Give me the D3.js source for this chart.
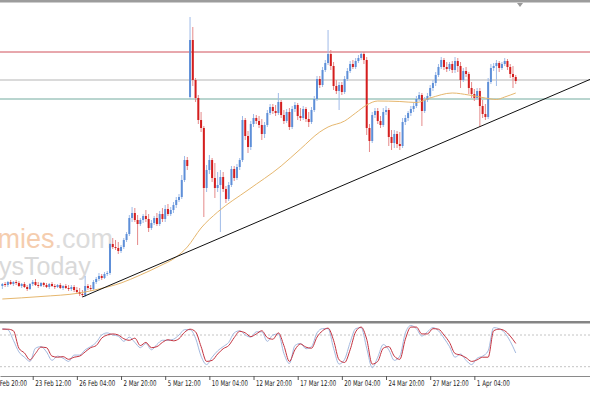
<!DOCTYPE html>
<html>
<head>
<meta charset="utf-8">
<script src="https://cdnjs.cloudflare.com/ajax/libs/d3/7.8.5/d3.min.js"></script>
<style>
  body { margin: 0; background: #fff; }
  svg { display: block; }
</style>
</head>
<body>
<script>
// H4 bars, prices in pips (x 0.0001)
const opens = [9688,9692,9690,9696,9692,9696,9694,9688,9692,9686,
  9682,9692,9696,9690,9688,9694,9690,9686,9692,9688,
  9686,9690,9684,9688,9684,9682,9686,9680,9676,9672,
  9670,9688,9684,9682,9696,9702,9708,9704,9712,9714,
  9772,9766,9764,9758,9766,9780,9792,9824,9834,9820,
  9812,9820,9828,9822,9804,9814,9824,9812,9832,9822,
  9842,9832,9840,9850,9860,9866,9900,9940,10066,10180,
  10100,10064,10020,10004,9884,9920,9940,9904,9884,9890,
  9906,9882,9862,9890,9922,9904,9926,9940,10020,9988,
  9966,10012,10024,10018,10010,9992,10010,10034,10046,10038,
  10034,10056,10030,10018,10036,10006,10042,10050,10028,10024,
  10042,10022,10016,10040,10062,10102,10090,10120,10134,10152,
  10128,10088,10078,10090,10076,10102,10118,10132,10126,10138,
  10144,10152,10140,10004,9978,10030,10038,10018,10010,10036,
  10040,9986,9974,9992,9972,9968,10016,10024,10034,10042,
  10048,10062,10070,10038,10060,10068,10084,10094,10110,10126,
  10140,10126,10122,10132,10120,10138,10128,10100,10118,10112,
  10084,10072,10064,10078,10048,10032,10026,10096,10124,10128,
  10134,10124,10132,10138,10126,10112,10106];
const highs = [9694,9696,9698,9700,9698,9700,9698,9694,9696,9690,
  9694,9700,9702,9696,9696,9696,9694,9694,9696,9692,
  9692,9694,9690,9692,9690,9690,9690,9686,9684,9680,
  9708,9692,9690,9700,9706,9714,9712,9716,9718,9774,
  9784,9780,9776,9770,9784,9796,9830,9846,9844,9830,
  9824,9832,9840,9832,9820,9828,9834,9838,9844,9850,
  9852,9846,9856,9866,9872,9910,9948,9946,10226,10206,
  10104,10070,10036,10008,9930,9950,9944,9934,9916,9920,
  9916,9888,9896,9928,9928,9932,9944,10028,10024,9998,
  10018,10032,10030,10028,10022,10016,10040,10052,10052,10050,
  10074,10060,10040,10042,10044,10048,10056,10054,10044,10048,
  10046,10036,10046,10068,10108,10108,10126,10140,10200,10160,
  10136,10100,10096,10096,10108,10124,10138,10140,10144,10150,
  10156,10156,10146,10012,10036,10044,10044,10028,10044,10048,
  10044,10000,10000,9998,9996,10024,10030,10038,10048,10054,
  10068,10076,10074,10066,10074,10090,10100,10116,10132,10146,
  10144,10136,10136,10138,10146,10144,10136,10124,10126,10116,
  10096,10082,10084,10084,10060,10052,10104,10132,10134,10140,
  10138,10136,10144,10142,10132,10128,10110];
const lows = [9682,9686,9686,9690,9688,9690,9686,9684,9684,9678,
  9680,9688,9688,9684,9686,9686,9684,9682,9686,9682,
  9684,9682,9680,9682,9678,9678,9676,9672,9668,9666,
  9666,9680,9678,9680,9692,9698,9700,9702,9708,9710,
  9762,9760,9752,9754,9762,9776,9788,9816,9816,9770,
  9808,9814,9816,9796,9800,9810,9808,9808,9816,9816,
  9828,9828,9834,9844,9856,9862,9896,9920,10062,10088,
  10056,10012,9996,9826,9876,9912,9896,9864,9876,9796,
  9876,9854,9858,9886,9898,9900,9920,9936,9980,9954,
  9960,10006,10012,10004,9980,9984,10006,10030,10032,10028,
  10030,10024,10012,10014,10000,10002,10036,10020,10018,10020,
  10016,10006,10012,10036,10058,10084,10086,10116,10130,10120,
  10080,10072,10040,10070,10072,10098,10114,10122,10122,10134,
  10140,10132,9990,9956,9974,10024,10012,10004,10006,10030,
  9968,9960,9964,9964,9960,9964,10010,10018,10028,10036,
  10044,10058,10008,10034,10056,10064,10078,10088,10106,10122,
  10120,10116,10118,10114,10114,10116,10084,10096,10106,10072,
  10064,10058,10060,10006,10024,10020,10022,10092,10118,10088,
  10116,10120,10128,10120,10104,10084,10092];
const closes = [9692,9690,9696,9692,9696,9694,9688,9692,9686,9682,
  9692,9696,9690,9688,9694,9690,9686,9692,9688,9686,
  9690,9684,9688,9684,9682,9686,9680,9676,9672,9670,
  9688,9684,9682,9696,9702,9708,9704,9712,9714,9772,
  9766,9764,9758,9766,9780,9792,9824,9834,9820,9812,
  9820,9828,9822,9804,9814,9824,9812,9832,9822,9842,
  9832,9840,9850,9860,9866,9900,9940,9928,10180,10100,
  10064,10020,10004,9884,9920,9940,9904,9884,9890,9906,
  9882,9862,9890,9922,9904,9926,9940,10020,9988,9966,
  10012,10024,10018,10010,9992,10010,10034,10046,10038,10034,
  10056,10030,10018,10036,10006,10042,10050,10028,10024,10042,
  10022,10016,10040,10062,10102,10090,10120,10134,10152,10128,
  10088,10078,10090,10076,10102,10118,10132,10126,10138,10144,
  10152,10140,10004,9978,10030,10038,10018,10010,10036,10040,
  9986,9974,9992,9972,9968,10016,10024,10034,10042,10048,
  10062,10070,10038,10060,10068,10084,10094,10110,10126,10140,
  10126,10122,10132,10120,10138,10128,10100,10118,10112,10084,
  10072,10064,10078,10048,10032,10026,10096,10124,10128,10134,
  10124,10132,10138,10126,10112,10106,10098];

// moving average, knots (bar index -> price)
const maIndex = [0,14,28,35,43,50,57,63,67,72,78,89,101,108,115,118,124,128,132,136,144,150,155,163,169,175,179,182,186];
const maValues = [9662,9667,9674,9682,9694,9710,9728,9746,9766,9804,9836,9880,9928,9962,9996,10006,10018,10034,10050,10058,10057,10055,10064,10074,10070,10064,10061,10066,10074];

// horizontal levels and trend line anchors
const levelPrices = [10156, 10100, 10062];
const trendIndex = [29, 171];
const trendValues = [9666, 10002];

// stochastic, one value every second bar
const stochMain = [92,90,70,48,38,30,55,58,48,32,
  40,36,30,42,42,52,58,66,80,84,
  80,78,68,76,66,56,64,52,62,70,
  70,72,80,90,90,74,40,24,38,50,
  58,66,84,88,80,76,86,86,68,80,
  82,45,26,60,64,54,58,84,92,92,
  55,25,34,66,92,94,55,18,38,62,
  52,32,40,84,98,92,78,86,94,88,
  74,58,38,44,32,24,36,40,50,94,
  92,84,68,46];
const stochSignal = [91,91,88,55,46,33,45,57,56,40,
  38,39,34,38,40,48,56,60,74,80,
  82,80,73,70,74,60,66,56,58,66,
  71,69,73,85,91,86,58,30,32,44,
  54,60,75,87,84,77,82,88,75,72,
  84,60,30,52,63,57,55,76,88,93,
  70,33,28,52,86,95,72,25,30,55,
  58,40,34,72,95,95,82,82,92,91,
  80,66,45,42,37,30,33,38,38,88,
  91,88,78,64];
const stochLevels = [80, 20];

// time axis
const tickIndex = [-5, 11, 27, 43, 59, 75, 91, 107, 123, 139, 155, 171];
const tickLabels = ["19 Feb 20:00","23 Feb 12:00","26 Feb 04:00","2 Mar 20:00","5 Mar 12:00",
  "10 Mar 04:00","12 Mar 20:00","17 Mar 12:00","20 Mar 04:00","24 Mar 20:00","27 Mar 12:00","1 Apr 04:00"];

const width = 590, height = 393;
const mainTop = 3, mainBottom = 320;
const subTop = 323, subBottom = 376;

const bars = opens.map((o, i) => ({i: i, o: o, h: highs[i], l: lows[i], c: closes[i]}));

const x = d3.scaleLinear().domain([-0.85, 212.9]).range([0, width]);
const y = d3.scaleLinear().domain([9620, 10254]).range([mainBottom, mainTop]);
const ys = d3.scaleLinear().domain([20, 80]).range([366.7, 335]);

const svg = d3.select('body').append('svg')
  .attr('width', width)
  .attr('height', height);

svg.append('rect').attr('width', width).attr('height', height).attr('fill', '#fff');

const defs = svg.append('defs');
defs.append('clipPath').attr('id', 'clipMain')
  .append('rect').attr('x', 0).attr('y', mainTop).attr('width', width).attr('height', mainBottom - mainTop);
defs.append('clipPath').attr('id', 'clipSub')
  .append('rect').attr('x', 0).attr('y', subTop).attr('width', width).attr('height', subBottom - subTop);

const main = svg.append('g').attr('clip-path', 'url(#clipMain)');

// watermark
const wm = main.append('g').style('font-family', 'Liberation Sans, Arial, sans-serif');
const wm1 = wm.append('text').attr('x', 113).attr('y', 248)
  .attr('text-anchor', 'end').style('font-size', '27px');
wm1.append('tspan').attr('fill', '#f5cdae').text('Economies');
wm1.append('tspan').attr('fill', '#dcdcdc').text('.com');
wm.append('text').attr('x', -1).attr('y', 275)
  .style('font-size', '25px').attr('fill', '#d9d9d9').text('ysToday');

// horizontal levels
const levelColors = ['#d0505a', '#dadada', '#72ab9f'];
const levelWidths = [1, 2, 1];
main.selectAll('.level').data(levelPrices).enter().append('line')
  .attr('x1', 0).attr('x2', width)
  .attr('y1', d => y(d)).attr('y2', d => y(d))
  .attr('stroke', (d, k) => levelColors[k])
  .attr('stroke-width', (d, k) => levelWidths[k]);

// candles
const upBody = '#5e8fd8', upWick = '#9fbbe8';
const dnBody = '#d41e1e', dnWick = '#e58a8a';
const candle = main.selectAll('.bar').data(bars).enter().append('g');
candle.append('line')
  .attr('x1', d => x(d.i)).attr('x2', d => x(d.i))
  .attr('y1', d => y(d.h)).attr('y2', d => y(d.l))
  .attr('stroke', d => d.c >= d.o ? upWick : dnWick)
  .attr('stroke-width', 1);
candle.append('rect')
  .attr('x', d => x(d.i) - 1)
  .attr('width', 2)
  .attr('y', d => y(Math.max(d.o, d.c)))
  .attr('height', d => Math.max(1, Math.abs(y(d.o) - y(d.c))))
  .attr('fill', d => d.c >= d.o ? upBody : dnBody);

// moving average
const maLine = d3.line().x(d => x(d[0])).y(d => y(d[1])).curve(d3.curveMonotoneX);
main.append('path')
  .datum(maIndex.map((v, k) => [v, maValues[k]]))
  .attr('d', maLine)
  .attr('fill', 'none')
  .attr('stroke', '#e6b76e')
  .attr('stroke-width', 1);

// trend line, extended to the right edge
const slope = (trendValues[1] - trendValues[0]) / (trendIndex[1] - trendIndex[0]);
const endIndex = x.domain()[1];
main.append('line')
  .attr('x1', x(trendIndex[0])).attr('y1', y(trendValues[0]))
  .attr('x2', x(endIndex)).attr('y2', y(trendValues[0] + slope * (endIndex - trendIndex[0])))
  .attr('stroke', '#111')
  .attr('stroke-width', 1);

// frame: top border, chart shift marker, window separator
svg.append('rect').attr('x', 0).attr('y', 0).attr('width', width).attr('height', 2.5).attr('fill', '#9c9c9c');
svg.append('path').attr('d', 'M517,3L523,3L520,7Z').attr('fill', '#9a9a9a');
svg.append('rect').attr('x', 0).attr('y', 321).attr('width', width).attr('height', 2.5).attr('fill', '#858585');

// stochastic window
const sub = svg.append('g').attr('clip-path', 'url(#clipSub)');
sub.selectAll('.slevel').data(stochLevels).enter().append('line')
  .attr('x1', 0).attr('x2', width)
  .attr('y1', d => ys(d)).attr('y2', d => ys(d))
  .attr('stroke', '#c4c4c4')
  .attr('stroke-dasharray', '2,2');

const stochLine = d3.line().x(d => x(d[0])).y(d => ys(d[1])).curve(d3.curveMonotoneX);
sub.append('path')
  .datum(stochMain.map((v, k) => [k * 2, v]))
  .attr('d', stochLine)
  .attr('fill', 'none')
  .attr('stroke', '#a3b9df')
  .attr('stroke-width', 1);
sub.append('path')
  .datum(stochSignal.map((v, k) => [k * 2, v]))
  .attr('d', stochLine)
  .attr('fill', 'none')
  .attr('stroke', '#c4323f')
  .attr('stroke-width', 1);

// time axis
const xAxis = svg.append('g')
  .attr('transform', `translate(0,${subBottom})`)
  .call(d3.axisBottom(x)
    .tickValues(tickIndex)
    .tickFormat((d, k) => tickLabels[k])
    .tickSize(4)
    .tickSizeOuter(0));
xAxis.select('.domain').attr('stroke', '#8a8a8a');
xAxis.selectAll('.tick line').attr('stroke', '#555');
// squeeze labels horizontally so each fits its slot, like the narrow terminal font
xAxis.selectAll('.tick text')
  .attr('text-anchor', 'start')
  .attr('x', 0)
  .attr('y', 4)
  .attr('fill', '#222')
  .style('font-family', 'DejaVu Sans, sans-serif')
  .style('font-size', '8px')
  .each(function(d, k) {
    const w = this.getComputedTextLength();
    const s = (tickLabels[k].length * 3.0) / w;
    d3.select(this).attr('transform', `translate(2,0) scale(${s},1)`);
  });
</script>
</body>
</html>
